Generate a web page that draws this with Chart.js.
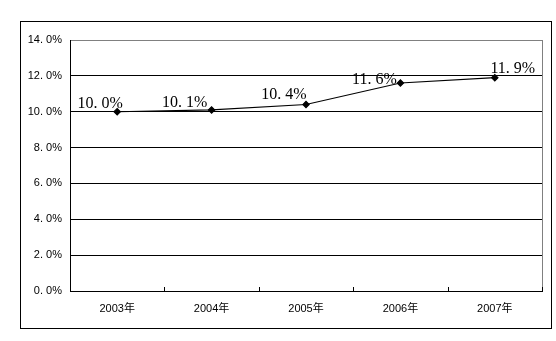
<!DOCTYPE html>
<html><head><meta charset="utf-8">
<script src="https://cdn.jsdelivr.net/npm/chart.js@4"></script>
<style>html,body{margin:0;padding:0;background:#fff}#c{display:block}</style>
</head><body>
<canvas id="c" width="556" height="341"></canvas>
<script>
const categories = ['2003年','2004年','2005年','2006年','2007年'];
const values = [10.0, 10.1, 10.4, 11.6, 11.9];
const yTicks = [0, 2, 4, 6, 8, 10, 12, 14];
const fmt = v => v.toFixed(1).replace('.', '. ') + '%';

const labelOffsets = [[-17,-4],[-27,-3],[-22,-6],[-26,1],[18,-5]];
const decor = {
  id:'decor',
  beforeDraw(chart){
    const c = chart.ctx;
    c.save(); c.fillStyle='#fff'; c.fillRect(0,0,chart.width,chart.height); c.restore();
  },
  afterDraw(chart){
    const c = chart.ctx, a = chart.chartArea, xs = chart.scales.x;
    c.save();
    c.strokeStyle='#000'; c.lineWidth=1;
    c.strokeRect(20.5,21.5,531,307);
    c.strokeStyle='#808080';
    c.beginPath(); c.moveTo(Math.round(a.right)+0.5,a.top); c.lineTo(Math.round(a.right)+0.5,a.bottom); c.stroke();
    c.strokeStyle='#000';
    const n = categories.length;
    const step = xs.getPixelForValue(1)-xs.getPixelForValue(0);
    for(let i=1;i<=n;i++){
      const x = Math.round(xs.getPixelForValue(i-1)+step/2)+0.5;
      c.beginPath(); c.moveTo(x,a.bottom); c.lineTo(x,a.bottom-4); c.stroke();
    }
    const meta = chart.getDatasetMeta(0);
    c.fillStyle='#000'; c.font='16px "Liberation Serif", serif';
    c.textAlign='center'; c.textBaseline='alphabetic';
    meta.data.forEach((p,i)=>{
      const o = labelOffsets[i];
      c.fillText(fmt(values[i]), p.x+o[0], p.y+o[1]);
    });
    c.restore();
  }
};

new Chart(document.getElementById('c'), {
  type:'line',
  data:{labels:categories, datasets:[{data:values, borderColor:'#000', borderWidth:1.1,
    pointStyle:'rectRot', pointRadius:3.2, pointBackgroundColor:'#000', pointBorderColor:'#000', tension:0}]},
  options:{
    responsive:false, animation:false, devicePixelRatio:1,
    layout:{padding:{left:0, top:40, right:14, bottom:0}},
    plugins:{legend:{display:false}, tooltip:{enabled:false}},
    scales:{
      x:{offset:true,
        grid:{display:false, drawTicks:false},
        border:{display:true, color:'#000', width:1},
        ticks:{padding:11, color:'#000', font:{family:'"Liberation Sans","Noto Sans CJK JP",sans-serif', size:11}, maxRotation:0},
        afterFit(s){ s.height = 50; }
      },
      y:{min:0, max:14,
        afterBuildTicks(s){ s.ticks = yTicks.map(v=>({value:v})); },
        grid:{drawTicks:false, color:ctx => (ctx.tick && ctx.tick.value===14) ? '#808080' : '#000', lineWidth:1},
        border:{display:true, color:'#000', width:1},
        ticks:{padding:8, color:'#000', font:{family:'"Liberation Sans","Noto Sans CJK JP",sans-serif', size:11}, callback:v=>fmt(v)},
        afterFit(s){ s.width = 70; }
      }
    }
  },
  plugins:[decor]
});
</script>
</body></html>
